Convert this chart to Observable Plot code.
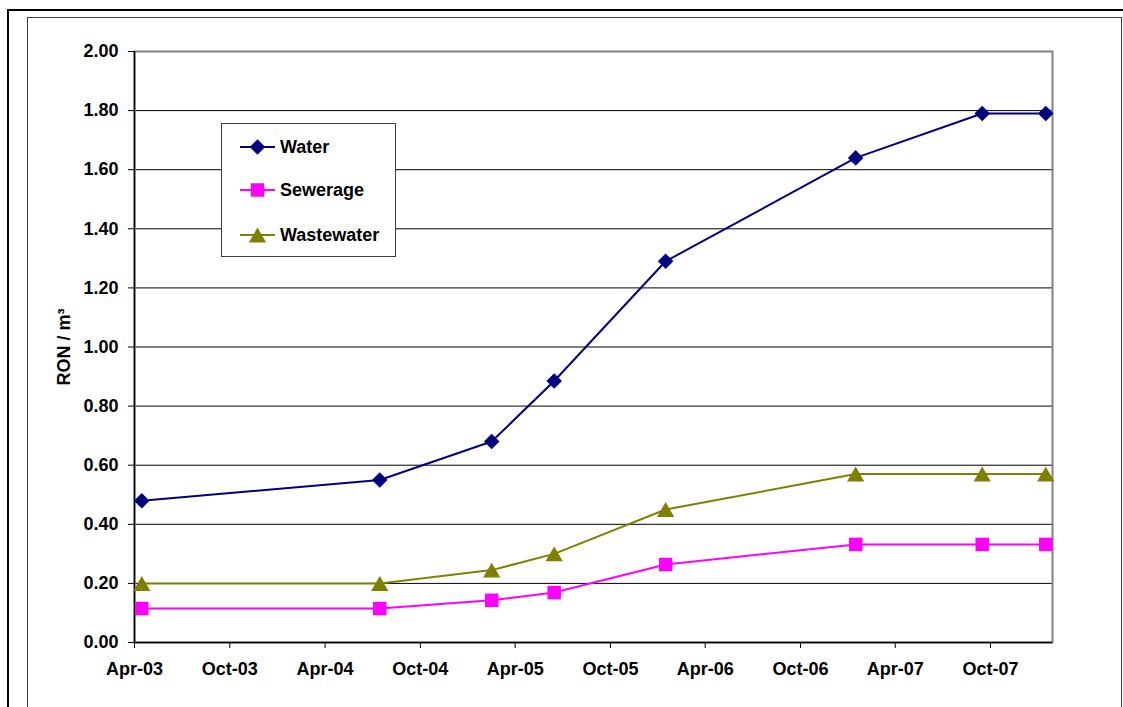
<!DOCTYPE html>
<html><head><meta charset="utf-8">
<script src="https://cdn.jsdelivr.net/npm/d3@7"></script>
<script src="https://cdn.jsdelivr.net/npm/@observablehq/plot@0.6"></script>
<style>
body{margin:0;background:#fff;overflow:hidden}
#wrap{position:relative;width:1123px;height:707px;overflow:hidden;font-family:"Liberation Sans",Arial,sans-serif;font-weight:bold;background:#fff}
.outer{position:absolute;left:7px;top:9px;width:1300px;height:900px;border:2px solid #000}
.inner{position:absolute;left:27px;top:17px;width:1093px;height:689px;border:1px solid #404040}
#chart{position:absolute;left:0;top:0}
#chart svg text{font-size:18px}
#legend{position:absolute;left:221px;top:123px;width:173px;height:132px;border:1px solid #404040;background:#fff}
.row{position:absolute;left:0;height:20px;width:170px}
.row svg{position:absolute;left:16px;top:0}
.row span{position:absolute;left:58px;top:0;font-size:18px;line-height:20px;color:#000}
</style></head>
<body>
<div id="wrap">
  <div class="outer"></div>
  <div class="inner"></div>
  <div id="chart"></div>
  <div id="legend"></div>
</div>
<script>
// ---- data ----
const dates = ["2003-04-15","2004-07-15","2005-02-15","2005-06-15","2006-01-15","2007-01-15","2007-09-15","2008-01-15"];
const water = [0.48, 0.55, 0.68, 0.885, 1.29, 1.64, 1.79, 1.79];
const sewerage = [0.115, 0.115, 0.143, 0.169, 0.264, 0.332, 0.332, 0.332];
const wastewater = [0.20, 0.20, 0.245, 0.30, 0.45, 0.57, 0.57, 0.57];
const seriesNames = ["Water", "Sewerage", "Wastewater"];
const seriesColors = ["#000080", "#FF00FF", "#808000"];
const seriesSymbols = ["diamond2", "square", "triangle"];
const xTicks = ["2003-04-01","2003-10-01","2004-04-01","2004-10-01","2005-04-01","2005-10-01","2006-04-01","2006-10-01","2007-04-01","2007-10-01"];
const xDomain = ["2003-04-01", "2008-01-28"];
const yTicks = [0, 0.2, 0.4, 0.6, 0.8, 1.0, 1.2, 1.4, 1.6, 1.8, 2.0];
const yLabel = "RON / m³";

// ---- build table ----
const valuesBySeries = [water, sewerage, wastewater];
const data = seriesNames.flatMap((s, k) => dates.map((d, i) => ({date: new Date(d), value: valuesBySeries[k][i], series: s})));

const dotR = {Water: 7, Sewerage: 7.6, Wastewater: 6.4};
const dotDy = {Water: 0, Sewerage: 0, Wastewater: 2.5};

const plot = Plot.plot({
  width: 1123, height: 707,
  marginLeft: 134, marginRight: 71, marginTop: 51, marginBottom: 65,
  style: {fontFamily: "'Liberation Sans', Arial, sans-serif", fontSize: "18px", fontWeight: "bold", color: "#000", background: "transparent", overflow: "visible"},
  x: {type: "utc", domain: xDomain.map(d => new Date(d))},
  y: {domain: [yTicks[0], yTicks[yTicks.length - 1]]},
  color: {domain: seriesNames, range: seriesColors},
  symbol: {domain: seriesNames, range: seriesSymbols},
  marks: [
    Plot.gridY(yTicks.slice(1, -1), {stroke: "#000", strokeOpacity: 1, strokeWidth: 1}),
    Plot.frame({stroke: "#808080", strokeWidth: 2}),
    Plot.ruleY([yTicks[0]], {stroke: "#000", strokeWidth: 1.5}),
    Plot.ruleX([new Date(xDomain[0])], {stroke: "#000", strokeWidth: 1.5}),
    Plot.axisY({ticks: yTicks, tickFormat: d3.format(".2f"), tickSize: 6, tickPadding: 10, stroke: "#000", fontSize: 18,
      label: yLabel, labelAnchor: "center", labelOffset: 77, labelArrow: "none"}),
    Plot.axisX({ticks: xTicks.map(d => new Date(d)), tickFormat: d3.utcFormat("%b-%y"), tickSize: 6, tickPadding: 14, stroke: "#000", fontSize: 18, label: null}),
    Plot.lineY(data, {x: "date", y: "value", z: "series", stroke: "series", strokeWidth: 2}),
    ...seriesNames.map(s => Plot.dot(data.filter(d => d.series === s), {x: "date", y: "value", fill: "series", symbol: "series", r: dotR[s], dy: dotDy[s], stroke: "none"}))
  ]
});
document.getElementById("chart").appendChild(plot);

// ---- legend ----
const legend = d3.select("#legend");
const rowTops = [13, 56, 101];
seriesNames.forEach((s, k) => {
  const row = legend.append("div").attr("class", "row").style("top", rowTops[k] + "px");
  const svg = row.append("svg").attr("width", 40).attr("height", 20);
  svg.append("line").attr("x1", 2).attr("x2", 37).attr("y1", 10).attr("y2", 10).attr("stroke", seriesColors[k]).attr("stroke-width", 2);
  const sym = [d3.symbolDiamond2, d3.symbolSquare, d3.symbolTriangle][k];
  const r = dotR[s];
  svg.append("path").attr("d", d3.symbol(sym, Math.PI * r * r)()).attr("transform", `translate(19.5,${10 + dotDy[s]})`).attr("fill", seriesColors[k]);
  row.append("span").text(s);
});
</script>
</body></html>
